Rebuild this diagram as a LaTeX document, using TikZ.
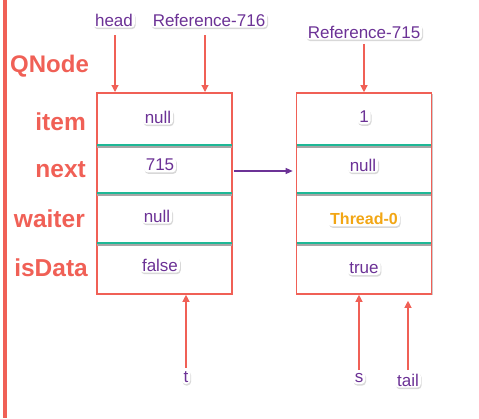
\documentclass[tikz,border=0pt]{standalone}
\usepackage{fontspec}
\setmainfont{Liberation Sans}
\usetikzlibrary{arrows.meta,shadows,calc}
\definecolor{qred}{RGB}{240,96,86}
\definecolor{qpurple}{RGB}{108,50,150}
\definecolor{qteal}{RGB}{30,184,150}
\definecolor{qorange}{RGB}{242,166,20}
\tikzset{
  tag/.style={fill=white,rounded corners=4pt,inner xsep=2pt,inner ysep=1.5pt,text=qpurple,font=\fontsize{17}{19}\selectfont,
    drop shadow={shadow xshift=0.8pt,shadow yshift=-1.5pt,fill=black!30,opacity=0.5}},
  field/.style={text=qred,font=\bfseries\fontsize{24.5}{26}\selectfont,anchor=east,inner sep=1pt},
  box/.style={draw=qred,line width=1.6pt,fill=white,minimum width=135pt,minimum height=201pt,inner sep=0pt,
    drop shadow={shadow xshift=1pt,shadow yshift=-1pt,fill=black!40,opacity=0.5}},
  rarr/.style={draw=qred,line width=1.2pt,-{Triangle[length=7pt,width=7pt]}},
  parr/.style={draw=qpurple,line width=1.2pt,-{Triangle[length=7pt,width=6pt]}},
  divider/.style={draw=qteal,line width=1.3pt},
  dshadow/.style={draw=black!35,line width=1.3pt},
}
\begin{document}
\begin{tikzpicture}[x=1pt,y=-1pt]
\useasboundingbox (0,0) rectangle (479,418);
% left bar
\fill[qred] (3,0) rectangle (6.5,418);
% boxes
\node[box] (b1) at (164.5,193.5) {};
\node[box] (b2) at (364,193.5) {};
\foreach \b in {b1,b2}{
  \foreach \y in {145,193,243}{
    \draw[dshadow] ($(\b.west)+(1,0)+(0,\y-193.5+2)$) -- ($(\b.east)+(-1,0)+(0,\y-193.5+2)$);
    \draw[divider] ($(\b.west)+(1,0)+(0,\y-193.5)$) -- ($(\b.east)+(-1,0)+(0,\y-193.5)$);
  }
}
% field labels
\node[text=qred,font=\bfseries\fontsize{24}{26}\selectfont,anchor=west,inner sep=1pt] (qn) at (9,66) {QNode};
\node[field] (fi) at (87,122) {item};
\node[field] (fn) at (87,170) {next};
\node[field] (fw) at (86,219) {waiter};
\node[field] (fd) at (89,268) {isData};
% values box1
\node[tag] (v11) at (158,117) {null};
\node[tag] (v12) at (160,165) {715};
\node[tag] (v13) at (157,216) {null};
\node[tag] (v14) at (160,265) {false};
% values box2
\node[tag] (v21) at (364,117) {1};
\node[tag] (v22) at (363,165) {null};
\node[tag,text=qorange,font=\bfseries\fontsize{16}{18}\selectfont] (v23) at (364,219) {Thread-0};
\node[tag] (v24) at (364,268) {true};
% top pointers
\node[tag] (head) at (114,20) {head};
\node[tag] (r716) at (209,20) {Reference-716};
\node[tag] (r715) at (364,32) {Reference-715};
\coordinate (h0) at (115,35);
\coordinate (h1) at (115,92);
\draw[rarr] (h0) -- (h1);
\coordinate (r0) at (205,35);
\coordinate (r1) at (205,92);
\draw[rarr] (r0) -- (r1);
\draw[rarr] (r715.south) ++(0,4) -- (b2.north);
% next arrow
\coordinate (na) at (b1.east |- 0,171);
\coordinate (nb) at (b2.west |- 0,171);
\draw[parr] ($(na)+(1,0)$) -- ($(nb)+(-3,0)$);
% bottom pointers
\node[tag] (t) at (186,377) {t};
\node[tag] (s) at (359,378) {s};
\node[tag] (tail) at (408,380) {tail};
\draw[rarr] (t.north) ++(0,-2) -- (t.north |- b1.south);
\draw[rarr] (s.north) ++(0,-2) -- (s.north |- b2.south);
\draw[rarr] (tail.north) ++(0,-2) -- ($(tail.north |- b2.south)+(0,6)$);
\end{tikzpicture}
\end{document}
